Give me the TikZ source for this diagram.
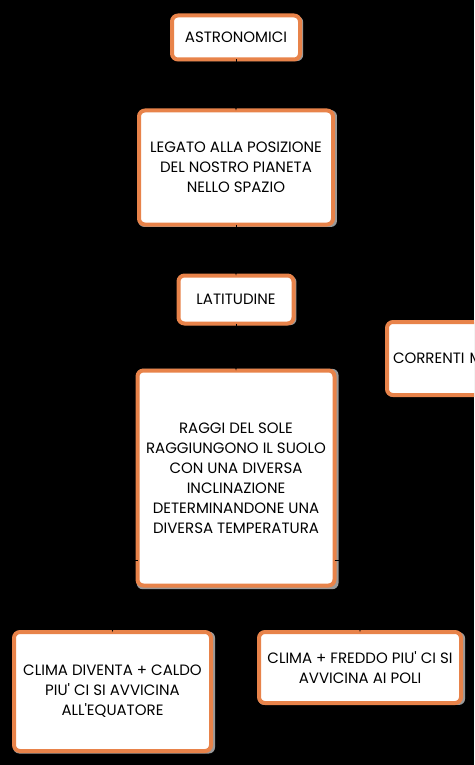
\documentclass[tikz,border=0pt]{standalone}
\usepackage{fontspec}
\setmainfont{Poppins}
\usetikzlibrary{arrows,shadows}
\usetikzlibrary{positioning}
\definecolor{boxorange}{HTML}{E8834A}
\definecolor{shadowgray}{HTML}{9A9A9A}
\newcommand{\apo}{\textquotesingle}
\tikzset{
    card/.style={
           rectangle, rounded corners=6pt,
           draw=boxorange, line width=4pt,
           fill=white,
           align=center,
           font=\fontsize{15}{20}\selectfont,
           general shadow={fill=shadowgray, shadow xshift=1.5pt, shadow yshift=-1pt, shadow scale=1.025},
           inner sep=0pt, outer sep=0pt,
           },
}
\tikzset{
    link/.style={
           draw=black, line width=1pt,
           -latex,
           },
}

\begin{document}
\begin{tikzpicture}
\fill[black] (0,0) rectangle (474pt,-765pt);
\useasboundingbox (0,0) rectangle (474pt,-765pt);
\clip (0,0) rectangle (474pt,-765pt);
\node[card,minimum width=128pt,minimum height=44pt] (astro) at (236pt,-37.5pt) {ASTRONOMICI};
\node[card,minimum width=194pt,minimum height=114pt,below=51pt of astro] (legato) {LEGATO ALLA POSIZIONE\\DEL NOSTRO PIANETA\\NELLO SPAZIO};
\node[card,minimum width=115pt,minimum height=48pt,below=51pt of legato] (lat) {LATITUDINE};
\node[card,minimum width=197pt,minimum height=215pt,below=47pt of lat] (raggi) {RAGGI DEL SOLE\\RAGGIUNGONO IL SUOLO\\CON UNA DIVERSA\\INCLINAZIONE\\DETERMINANDONE UNA\\DIVERSA TEMPERATURA};
\node[card,minimum width=197pt,minimum height=119pt] (caldo) at (112.5pt,-691.5pt) {CLIMA DIVENTA + CALDO\\PIU\apo{} CI SI AVVICINA\\ALL\apo{}EQUATORE};
\node[card,minimum width=202pt,minimum height=71pt] (freddo) at (360pt,-667.5pt) {CLIMA + FREDDO PIU\apo{} CI SI\\AVVICINA AI POLI};
\node[card,align=left,text width=140pt,inner xsep=6pt,minimum height=73pt,anchor=west] (correnti) at (387pt,-358.5pt) {CORRENTI M};
\draw[link] (astro) -- (legato);
\draw[link] (legato) -- (lat);
\draw[link] (lat) -- (raggi);
\draw[link] ([yshift=25pt]raggi.south west) -| (caldo.north);
\draw[link] ([yshift=25pt]raggi.south east) -| (freddo.north);
\end{tikzpicture}
\end{document}
